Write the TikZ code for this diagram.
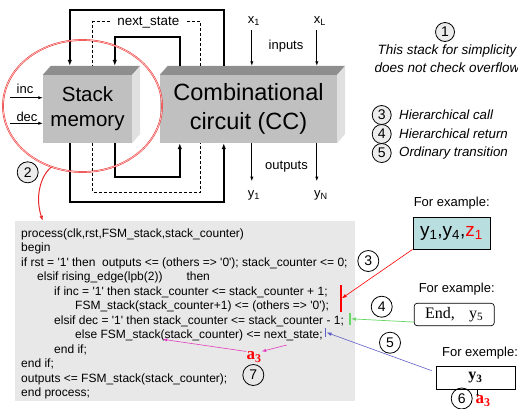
\documentclass[tikz,border=0pt]{standalone}
\usepackage{fontspec}
\setmainfont{Liberation Sans}
\newfontfamily\serifrm{Liberation Serif}
\newfontfamily\codefont{Liberation Sans}[Ligatures=TeXOff]
\usetikzlibrary{arrows.meta,shapes.geometric,calc}

\definecolor{frontgray}{RGB}{192,192,192}
\definecolor{topgray}{RGB}{142,142,142}
\definecolor{sidegray}{RGB}{224,224,224}
\definecolor{codegray}{RGB}{232,232,232}
\definecolor{circgray}{RGB}{236,236,236}
\definecolor{excyan}{RGB}{184,222,224}
\definecolor{linkgreen}{RGB}{100,215,100}
\definecolor{linkblue}{RGB}{95,95,200}
\definecolor{linkmag}{RGB}{228,60,190}
\definecolor{ringred}{RGB}{232,40,40}

\tikzset{
  front/.style={fill=frontgray, inner sep=0, align=center},
  wire/.style={line width=1.7pt},
  dashwire/.style={line width=0.8pt, dash pattern=on 3pt off 2pt},
  thinwire/.style={line width=0.7pt},
  bigtip/.style={-{Latex[length=6pt,width=4.5pt]}},
  smalltip/.style={-{Latex[length=4.5pt,width=3.2pt]}},
  lbl/.style={inner sep=0, font=\fontsize{13}{13}\selectfont},
  legend/.style={anchor=west, inner sep=0, font=\itshape\fontsize{13.3}{13.3}\selectfont},
  num/.style={circle, draw, line width=0.8pt, minimum size=21pt, inner sep=0,
              font=\fontsize{14}{14}\selectfont},
  smallnum/.style={num, minimum size=19pt},
  code/.style={anchor=base west, inner sep=0, font=\codefont\fontsize{12}{14}\selectfont},
  bar/.style={inner sep=0, minimum width=1.6pt},
  avar/.style={inner sep=0, text=red, font=\serifrm\bfseries\fontsize{17}{17}\selectfont},
}

\begin{document}
\begin{tikzpicture}[x=1pt, y=-1pt]
\useasboundingbox (0,0) rectangle (518,408);

% ---------- the two 3D blocks ----------
\node[front, minimum width=89pt, minimum height=68pt,
      font=\fontsize{20.5}{25}\selectfont] (stack) at (87.5,109) {Stack\\memory};
\fill[topgray] (stack.north west) -- (stack.north east) -- ++(8,-9)
   -- ($(stack.north west)+(8,-9)$) -- cycle;
\fill[sidegray] (stack.north east) -- ++(8,-9) -- ++(0,68) -- (stack.south east) -- cycle;

\node[front, minimum width=177pt, minimum height=68pt,
      font=\fontsize{23.5}{29}\selectfont] (cc) at (248.5,109) {Combinational\\circuit (CC)};
\fill[topgray] (cc.north west) -- (cc.north east) -- ++(8,-9)
   -- ($(cc.north west)+(8,-9)$) -- cycle;
\fill[sidegray] (cc.north east) -- ++(8,-9) -- ++(0,68) -- (cc.south east) -- cycle;

% connection points on the blocks
\coordinate (sTa) at ($(stack.north west)+(27,-9)$);
\coordinate (sTb) at ($(stack.north west)+(50,-9)$);
\coordinate (sTc) at ($(stack.north west)+(72,-9)$);
\coordinate (sBa) at ($(stack.south west)+(27,0)$);
\coordinate (sBb) at ($(stack.south west)+(50,0)$);
\coordinate (sBc) at ($(stack.south west)+(72,0)$);
\coordinate (cTc) at ($(cc.north west)+(20,-9)$);
\coordinate (cTb) at ($(cc.north west)+(41,-9)$);
\coordinate (cTa) at ($(cc.north west)+(64,-9)$);
\coordinate (cBc) at ($(cc.south west)+(20,0)$);
\coordinate (cBb) at ($(cc.south west)+(41,0)$);
\coordinate (cBa) at ($(cc.south west)+(64,0)$);
\coordinate (cIn1) at ($(cc.north west)+(92,-9)$);
\coordinate (cInL) at ($(cc.north west)+(157,-9)$);
\coordinate (cOut1) at ($(cc.south west)+(92,0)$);
\coordinate (cOutN) at ($(cc.south west)+(157,0)$);

% feedback loops
\draw[wire, bigtip] (cTa) -- ++(0,-56) -| (sTa);
\draw[wire, bigtip] (cTc) -- ++(0,-29) -| (sTc);
\draw[dashwire] (cTb) -- ++(0,-44) -| (sTb);
\node[fill=white, inner xsep=6pt, inner ysep=1pt, font=\fontsize{13.4}{13.4}\selectfont]
  (ns) at (148.3,22) {next\_state};
\draw[wire, bigtip] (sBa) -- ++(0,59) -| (cBa);
\draw[wire, bigtip] (sBc) -- ++(0,34) -| (cBc);
\draw[dashwire] (sBb) -- ++(0,49) -| (cBb);

% inputs and outputs of CC
\coordinate (x1end) at ($(cIn1)+(0,-36)$);
\coordinate (xLend) at ($(cInL)+(0,-36)$);
\coordinate (y1end) at ($(cOut1)+(0,38)$);
\coordinate (yNend) at ($(cOutN)+(0,38)$);
\draw[thinwire, smalltip] (x1end) -- (cIn1);
\draw[thinwire, smalltip] (xLend) -- (cInL);
\draw[thinwire, smalltip] (cOut1) -- (y1end);
\draw[thinwire, smalltip] (cOutN) -- (yNend);
\node[lbl] (xone) at (254,21) {x\textsubscript{1}};
\node[lbl] (xell) at (320,21) {x\textsubscript{L}};
\node[lbl] (inp) at (286,46) {inputs};
\node[lbl] (outp) at (286.5,166.5) {outputs};
\node[lbl] (yone) at (254,195) {y\textsubscript{1}};
\node[lbl] (yen) at (321,195) {y\textsubscript{N}};

% inc / dec inputs of the stack
\coordinate (incStart) at (10,97.7);
\coordinate (decStart) at (10,123.3);
\draw[thinwire, smalltip] (incStart) -- (incStart -| stack.west);
\draw[thinwire, smalltip] (decStart) -- (decStart -| stack.west);
\node[lbl] (inc) at (25,89) {inc};
\node[lbl] (dec) at (27,116.5) {dec};

% ---------- code listing ----------
\node[fill=codegray, minimum width=340pt, minimum height=180pt, inner sep=0]
  (codebox) at (185,311) {};
\node[code] (c1) at (21,237.5) {process(clk,rst,FSM\_stack,stack\_counter)};
\node[code] (c2) at (21,251.95) {begin};
\node[code] (c3) at (21,266.4) {if rst = '1' then\ \ outputs <= (others => '0'); stack\_counter <= 0;};
\node[code] (c4) at (37,280.85) {elsif rising\_edge(lpb(2))\hspace*{24pt}then};
\node[code] (c5) at (54,295.3) {if inc = '1' then stack\_counter <= stack\_counter + 1;};
\node[code] (c6) at (75,309.75) {FSM\_stack(stack\_counter+1) <= (others => '0');};
\node[code] (c7) at (54,324.2) {elsif dec = '1' then stack\_counter <= stack\_counter - 1;};
\node[code] (c8) at (75,338.65) {else FSM\_stack(stack\_counter) <= next\_state;};
\node[code] (c9) at (54,353.1) {end if;};
\node[code] (c10) at (21,367.55) {end if;};
\node[code] (c11) at (21,382) {outputs <= FSM\_stack(stack\_counter);};
\node[code] (c12) at (21,396.45) {end process;};

% ---------- ring round the stack and its link to the code ----------
\node[ellipse, draw=ringred, line width=0.45pt, double=red!25, double distance=0.8pt,
      minimum width=159pt, minimum height=132pt, inner sep=0] (ring) at (82.5,106) {};
\coordinate (codeIn) at ($(codebox.north west)+(28,0)$);
\draw[ringred, line width=1pt, -{Latex[length=5pt,width=3.8pt]}]
  (ring.243) .. controls (40,176) and (35,198) .. (codeIn);
\node[num, fill=circgray] (n2) at (27.7,172.3) {2};

% ---------- notes on the right ----------
\node[smallnum, fill=circgray] (n1) at (445,32) {1};
\node[align=center, inner sep=0, font=\itshape\fontsize{13.5}{18}\selectfont]
  (note) at (447,59) {This stack for simplicity\\does not check overflow};

\node[smallnum, fill=circgray] (l3) at (381.7,115) {3};
\node[smallnum, fill=circgray] (l4) at (381.7,134) {4};
\node[smallnum, fill=circgray] (l5) at (381.7,153) {5};
\node[legend] (t3) at (399,115) {Hierarchical call};
\node[legend] (t4) at (399,134) {Hierarchical return};
\node[legend] (t5) at (399,153) {Ordinary transition};

% ---------- examples ----------
\node[lbl] (fe1) at (451.7,203.3) {For example:};
\node[draw, line width=0.7pt, fill=excyan, minimum width=77pt, minimum height=31.7pt,
      inner sep=0, font=\fontsize{19}{19}\selectfont]
  (ex1) at (451.4,233.2) {y\textsubscript{1},y\textsubscript{4},\textcolor{red}{z\textsubscript{1}}};

\node[lbl] (fe2) at (456.7,289) {For example:};
\node[draw, line width=0.7pt, rounded corners=3pt, minimum width=80pt, minimum height=22.4pt,
      inner sep=0, font=\serifrm\fontsize{16}{16}\selectfont]
  (ex2) at (454.2,314.5) {End,\hspace{0.9em}y\textsubscript{5}};

\node[lbl] (fe3) at (480,353.3) {For exemple:};
\node[draw, line width=0.7pt, minimum width=79pt, minimum height=23pt, inner sep=0,
      font=\serifrm\bfseries\fontsize{16}{16}\selectfont]
  (ex3) at (475.5,377.5) {y\textsubscript{3}};
\coordinate (ex3out) at ($(ex3.south)+(2,0)$);
\coordinate (ex3tip) at ($(ex3.south)+(2,8)$);
\draw[line width=0.5pt, -{Latex[length=3pt,width=2.5pt]}] (ex3out) -- (ex3tip);
\node[avar] (athreeb) at (483,401) {a\textsubscript{3}};
\node[num] (n6) at (461.7,398.5) {6};

% markers in the listing
\node[bar, fill=red, minimum height=27pt] (rbar) at (340.7,298.4) {};
\node[bar, fill=linkgreen, minimum height=12.5pt] (gbar) at (350,318.8) {};
\node[bar, fill=linkblue, minimum height=9pt] (bbar) at (325.5,332.5) {};

\coordinate (ex2from) at ($(ex2.south west)+(0,-4)$);
\coordinate (ex3from) at ($(ex3.north west)+(-4,5)$);
\draw[red, line width=0.6pt, -{Latex[length=5pt,width=3.5pt]}] (ex1.south west) -- (rbar.east);
\draw[linkgreen, line width=0.7pt, -{Latex[length=5pt,width=3.5pt]}] (ex2from) -- (gbar.east);
\draw[linkblue, line width=0.6pt, -{Latex[length=5pt,width=3.5pt]}] (ex3from) -- (bbar.east);

\node[num] (n3) at (368.3,261) {3};
\node[num] (n4) at (381.7,306.7) {4};
\node[num] (n5) at (390,342.7) {5};

% a3 with its two links
\node[avar] (athree) at (254,357) {a\textsubscript{3}};
\coordinate (fsmPt) at (162.7,339.3);
\coordinate (nsPt) at (286.7,345);
\draw[linkmag, line width=0.6pt, -{Latex[length=4.5pt,width=3.2pt]}] (athree.north west) -- (fsmPt);
\draw[linkmag, line width=0.6pt, -{Latex[length=4.5pt,width=3.2pt]}] (nsPt) -- (athree.north east);
\node[num] (n7) at (253.3,375) {7};

\end{tikzpicture}
\end{document}
